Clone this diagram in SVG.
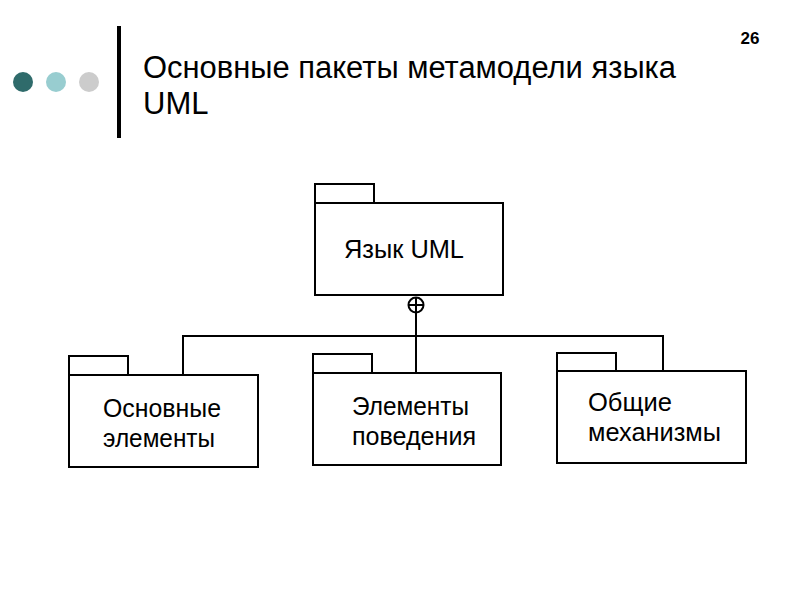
<svg xmlns="http://www.w3.org/2000/svg" width="800" height="600" viewBox="0 0 800 600">
<style>
.pk{fill:#fff;stroke:#000;stroke-width:2}
.lbl{font-family:"Liberation Sans",Arial,sans-serif;font-size:26px;fill:#000}
.ln{stroke:#000;stroke-width:2;fill:none}
.title{font-family:"Liberation Sans",Arial,sans-serif;font-size:31px;fill:#000}
</style>
<rect width="800" height="600" fill="#fff"/>
<circle cx="23" cy="82" r="10" fill="#2f6b6b"/>
<circle cx="56" cy="82" r="10" fill="#98cdd0"/>
<circle cx="89" cy="82" r="10" fill="#cccccc"/>
<rect x="117" y="26" width="4" height="112" fill="#000"/>
<text class="title" x="143" y="78" textLength="533" lengthAdjust="spacingAndGlyphs">Основные пакеты метамодели языка</text>
<text class="title" x="143" y="114">UML</text>
<text x="750" y="44" font-family="Liberation Sans,Arial,sans-serif" font-size="17" font-weight="bold" text-anchor="middle">26</text>
<g id="connectors">
<line class="ln" x1="416" y1="313" x2="416" y2="373"/>
<polyline class="ln" points="183,375 183,336 663,336 663,371"/>
<circle class="ln" cx="416" cy="305" r="7.5" stroke-width="1.5"/>
<line class="ln" x1="408.5" y1="305" x2="423.5" y2="305" stroke-width="1.5"/>
<line class="ln" x1="416" y1="297.5" x2="416" y2="312.5" stroke-width="1.5"/>
</g>
<g id="uml">
<rect class="pk" x="315" y="184" width="59" height="19"/>
<rect class="pk" x="315" y="203" width="188" height="92"/>
<text class="lbl" x="344" y="258" textLength="120" lengthAdjust="spacingAndGlyphs">Язык UML</text>
</g>
<g id="core">
<rect class="pk" x="69" y="356" width="59" height="19"/>
<rect class="pk" x="69" y="375" width="189" height="92"/>
<text class="lbl" x="103" y="417" textLength="118" lengthAdjust="spacingAndGlyphs">Основные</text>
<text class="lbl" x="103" y="447" textLength="112" lengthAdjust="spacingAndGlyphs">элементы</text>
</g>
<g id="behavior">
<rect class="pk" x="313" y="354" width="59" height="19"/>
<rect class="pk" x="313" y="373" width="188" height="92"/>
<text class="lbl" x="352" y="415" textLength="117" lengthAdjust="spacingAndGlyphs">Элементы</text>
<text class="lbl" x="352" y="445" textLength="124" lengthAdjust="spacingAndGlyphs">поведения</text>
</g>
<g id="mechanisms">
<rect class="pk" x="557" y="353" width="59" height="18"/>
<rect class="pk" x="557" y="371" width="189" height="92"/>
<text class="lbl" x="588" y="411" textLength="84" lengthAdjust="spacingAndGlyphs">Общие</text>
<text class="lbl" x="588" y="441" textLength="133" lengthAdjust="spacingAndGlyphs">механизмы</text>
</g>
</svg>
